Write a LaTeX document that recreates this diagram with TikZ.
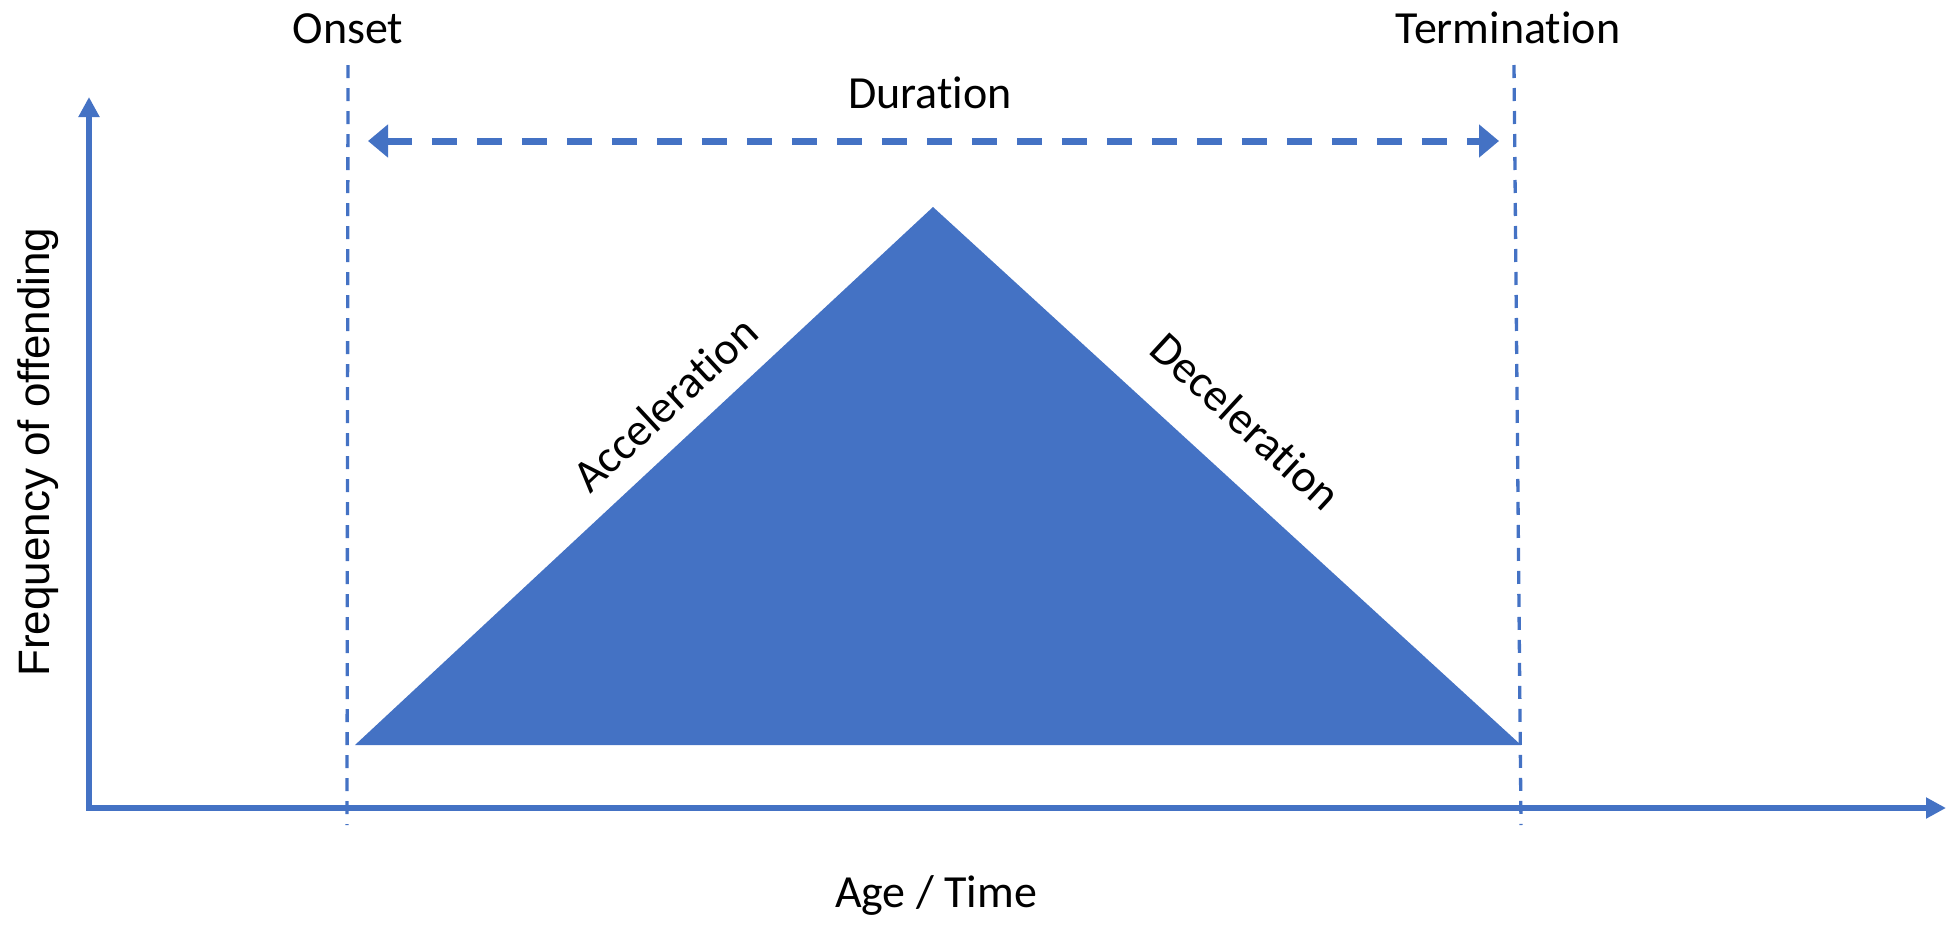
\documentclass[tikz,border=0pt]{standalone}
\usepackage{fontspec}
\setmainfont{Carlito}[Ligatures={NoCommon,NoRequired,NoContextual}]
\newfontfamily\arialfont{Liberation Sans}
\usetikzlibrary{arrows.meta}
\definecolor{ofblue}{HTML}{4472C4}
\newcommand{\nolig}{\kern0pt{}}
\begin{document}
\begin{tikzpicture}[x=1pt,y=-1pt,
  axisline/.style={draw=ofblue, line width=6.5pt, -{Triangle[length=20pt,width=20pt]}},
  guide/.style={draw=ofblue, line width=3.3pt, dash pattern=on 13pt off 10pt},
  durarrow/.style={draw=ofblue, line width=7pt, dash pattern=on 25pt off 20pt,
    {Triangle[length=20pt,width=32pt]}-{Triangle[length=20pt,width=32pt]}},
  lbl/.style={font=\fontsize{46}{55}\selectfont, text=black, inner sep=0pt}]
\useasboundingbox (0,0) rectangle (1949,924);
% axes
\coordinate (ybot) at (89,806);
\coordinate (ytop) at (89,97);
\coordinate (xleft) at (86,808);
\coordinate (xright) at (1946,808);
\draw[axisline] (ybot) -- (ytop);
\draw[axisline] (xleft) -- (xright);
% triangle
\coordinate (tl) at (355,745);
\coordinate (tapex) at (933,207);
\coordinate (tr) at (1521,745);
\fill[ofblue] (tl) -- (tapex) -- (tr) -- cycle;
% guides
\coordinate (on1) at (348,65);
\coordinate (on2) at (347,825);
\coordinate (te1) at (1514,65);
\coordinate (te2) at (1521,825);
\draw[guide] (on1) -- (on2);
\draw[guide] (te1) -- (te2);
% duration arrow
\coordinate (dl) at (368,141);
\coordinate (dr) at (1499,141);
\draw[durarrow] (dl) -- (dr);
% labels
\node[lbl, anchor=base] (onset) at (348,43) {Onset};
\node[lbl, anchor=base] (term) at (1508,43) {Terminat\nolig ion};
\node[lbl, anchor=base] (dur) at (930,108) {Durat\nolig ion};
\node[lbl, anchor=base] (age) at (936,907) {Age / Time};
\node[lbl, rotate=42.9] (acc) at (665,404) {Accelerat\nolig ion};
\node[lbl, rotate=-42.6] (dec) at (1246,421) {Decelerat\nolig ion};
\node[inner sep=0pt, font=\arialfont\fontsize{44}{53}\selectfont, rotate=90, anchor=base west] (freq) at (49,677) {Frequency of offending};
\end{tikzpicture}
\end{document}
